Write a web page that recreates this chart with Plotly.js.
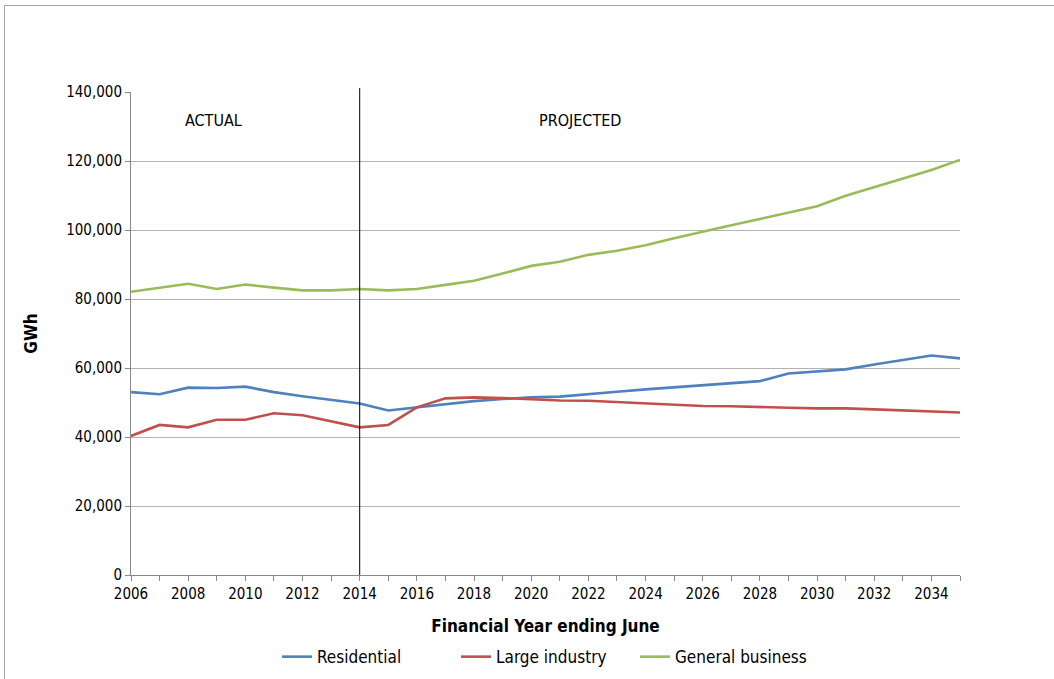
<!DOCTYPE html>
<html>
<head>
<meta charset="utf-8">
<script src="https://cdn.plot.ly/plotly-3.0.1.min.js"></script>
<style>
html,body{margin:0;padding:0;background:#fff;}
#chart{width:1054px;height:679px;}
#frame{position:absolute;left:4px;top:5px;width:1200px;height:800px;border-top:1px solid #a6a6a6;border-left:1px solid #a6a6a6;pointer-events:none;}
</style>
</head>
<body>
<div id="chart"></div>
<div id="frame"></div>
<script>
const years = [2006,2007,2008,2009,2010,2011,2012,2013,2014,2015,2016,2017,2018,2019,2020,2021,2022,2023,2024,2025,2026,2027,2028,2029,2030,2031,2032,2033,2034,2035];
const residential = [53000,52400,54300,54200,54600,53000,51800,50800,49700,47700,48600,49700,50400,51000,51500,51700,52500,53100,53800,54400,55100,55800,56200,58400,58900,59600,61000,62400,63600,62800];
const largeIndustry = [40300,43500,42800,45000,45000,46900,46300,44600,42800,43500,48600,51200,51500,51300,50900,50600,50500,50100,49800,49400,49000,48900,48800,48500,48300,48300,48000,47700,47400,47100];
const generalBusiness = [82100,83200,84400,82900,84200,83300,82500,82500,82900,82500,82900,84100,85300,87400,89600,90800,92800,94000,95600,97600,99600,101400,103200,105100,106900,109900,112400,114700,117400,120300];
const xTickVals = [2006,2008,2010,2012,2014,2016,2018,2020,2022,2024,2026,2028,2030,2032,2034];
const xTickText = xTickVals.map(String);
const yTickVals = [0,20000,40000,60000,80000,100000,120000,140000];
const yTickText = ['0','20,000','40,000','60,000','80,000','100,000','120,000','140,000'];
const dividerYear = 2014;

const FONT = '"Liberation Sans Narrow", "DejaVu Sans Condensed", Arial, sans-serif';

const traces = [
  {x: years, y: residential, name: 'Residential', type: 'scatter', mode: 'lines', line: {color: '#4F81BD', width: 2.6}},
  {x: years, y: largeIndustry, name: 'Large industry', type: 'scatter', mode: 'lines', line: {color: '#C0504D', width: 2.6}},
  {x: years, y: generalBusiness, name: 'General business', type: 'scatter', mode: 'lines', line: {color: '#9BBB59', width: 2.6}}
];

const layout = {
  width: 1054, height: 679,
  margin: {l: 131, r: 94, t: 92, b: 104, autoexpand: false},
  paper_bgcolor: '#fff', plot_bgcolor: '#fff',
  font: {family: FONT, size: 15, color: '#000'},
  showlegend: true,
  legend: {orientation: 'h', x: 0.5, xanchor: 'center', y: -0.17, yanchor: 'middle', font: {size: 17, family: FONT}, itemwidth: 30, entrywidth: 134, entrywidthmode: 'pixels', tracegroupgap: 0},
  xaxis: {
    range: [2006, 2035], tickvals: xTickVals, ticktext: xTickText,
    ticks: 'outside', ticklen: 5, tickcolor: '#888',
    minor: {dtick: 1, tick0: 2006, ticks: 'outside', ticklen: 5, tickcolor: '#888', showgrid: false},
    showline: true, linecolor: '#888', linewidth: 1, showgrid: false, zeroline: false,
    tickfont: {size: 15, family: FONT},
    title: {text: 'Financial Year ending June', font: {size: 17, family: FONT, weight: 'bold'}, standoff: 18}
  },
  yaxis: {
    range: [0, 140000], tickvals: yTickVals, ticktext: yTickText,
    ticks: 'outside', ticklen: 5, tickcolor: '#888',
    showline: true, linecolor: '#888', linewidth: 1,
    showgrid: true, gridcolor: '#b3b3b3', gridwidth: 1, zeroline: false,
    tickfont: {size: 15, family: FONT},
    title: {text: 'GWh', font: {size: 17, family: FONT, weight: 'bold'}, standoff: 24}
  },
  shapes: [
    {type: 'line', xref: 'x', yref: 'paper', x0: dividerYear, x1: dividerYear, y0: 0, y1: 1.008, line: {color: '#000', width: 1}}
  ],
  annotations: [
    {text: 'ACTUAL', xref: 'x', yref: 'paper', x: 2008.9, y: 0.942, yanchor: 'middle', showarrow: false, font: {size: 16, family: FONT}},
    {text: 'PROJECTED', xref: 'x', yref: 'paper', x: 2021.7, y: 0.942, yanchor: 'middle', showarrow: false, font: {size: 16, family: FONT}}
  ]
};

Plotly.newPlot('chart', traces, layout, {displayModeBar: false, staticPlot: true});
</script>
</body>
</html>
